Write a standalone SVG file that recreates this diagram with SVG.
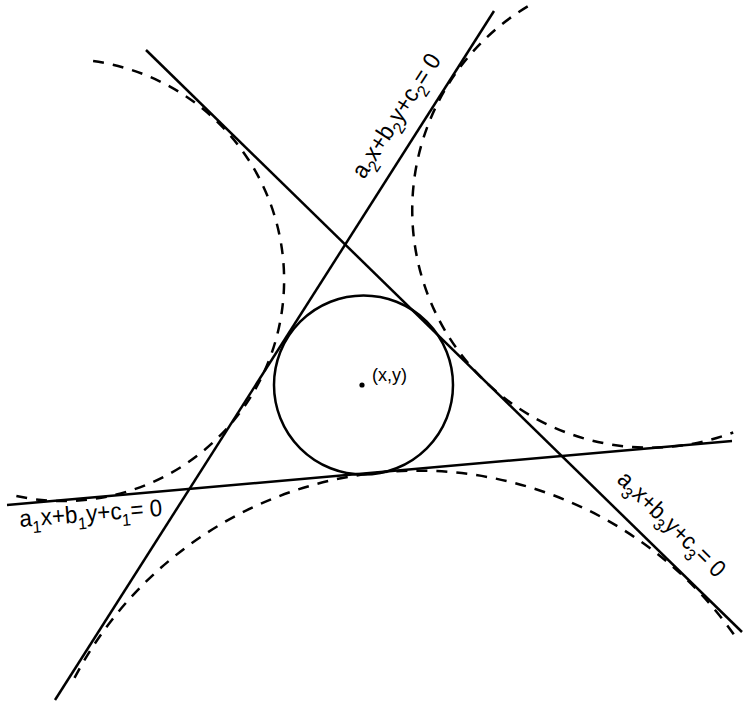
<svg xmlns="http://www.w3.org/2000/svg" width="743" height="706" viewBox="0 0 743 706">
<style>
.ln{stroke:#000;stroke-width:2.5;fill:none}
.dash{stroke:#000;stroke-width:2.5;fill:none;stroke-dasharray:11 9}
.lbl{font-family:"Liberation Sans",Arial,sans-serif;font-size:24px;fill:#000}
.s{font-size:17px}
</style>
<rect width="743" height="706" fill="#fff"/>
<g id="excircles">
<path id="ex-left" class="dash" d="M93.1 61.1 A221 221 0 1 1 15.2 495.8"/>
<path id="ex-right" class="dash" d="M527.7 6.4 A237.5 237.5 0 0 0 733.2 432.5"/>
<path id="ex-bottom" class="dash" d="M74.5 677.9 A387.4 387.4 0 0 1 734.8 635.8"/>
</g>
<g id="connectors">
<line id="line1" class="ln" x1="7" y1="505" x2="732" y2="441"/>
<line id="line2" class="ln" x1="55" y1="700" x2="494" y2="11"/>
<line id="line3" class="ln" x1="146" y1="50" x2="742" y2="632"/>
</g>
<g id="incircle">
<circle class="ln" cx="363.5" cy="385" r="89.5"/>
<circle cx="362" cy="385" r="2.6" fill="#000"/>
<text class="lbl" x="372" y="381" style="font-size:18px">(x,y)</text>
</g>
<g id="labels">
<text id="label1" class="lbl" transform="translate(20,527) rotate(-4.5)" textLength="143" lengthAdjust="spacingAndGlyphs">a<tspan class="s" dy="7">1</tspan><tspan dy="-7">x+b</tspan><tspan class="s" dy="7">1</tspan><tspan dy="-7">y+c</tspan><tspan class="s" dy="7">1</tspan><tspan dy="-7">= 0</tspan></text>
<text id="label2" class="lbl" transform="translate(364,180) rotate(-57)" textLength="143" lengthAdjust="spacingAndGlyphs">a<tspan class="s" dy="7">2</tspan><tspan dy="-7">x+b</tspan><tspan class="s" dy="7">2</tspan><tspan dy="-7">y+c</tspan><tspan class="s" dy="7">2</tspan><tspan dy="-7">= 0</tspan></text>
<text id="label3" class="lbl" transform="translate(616,481) rotate(44.3)" textLength="140" lengthAdjust="spacingAndGlyphs">a<tspan class="s" dy="7">3</tspan><tspan dy="-7">x+b</tspan><tspan class="s" dy="7">3</tspan><tspan dy="-7">y+c</tspan><tspan class="s" dy="7">3</tspan><tspan dy="-7">= 0</tspan></text>
</g>
</svg>
